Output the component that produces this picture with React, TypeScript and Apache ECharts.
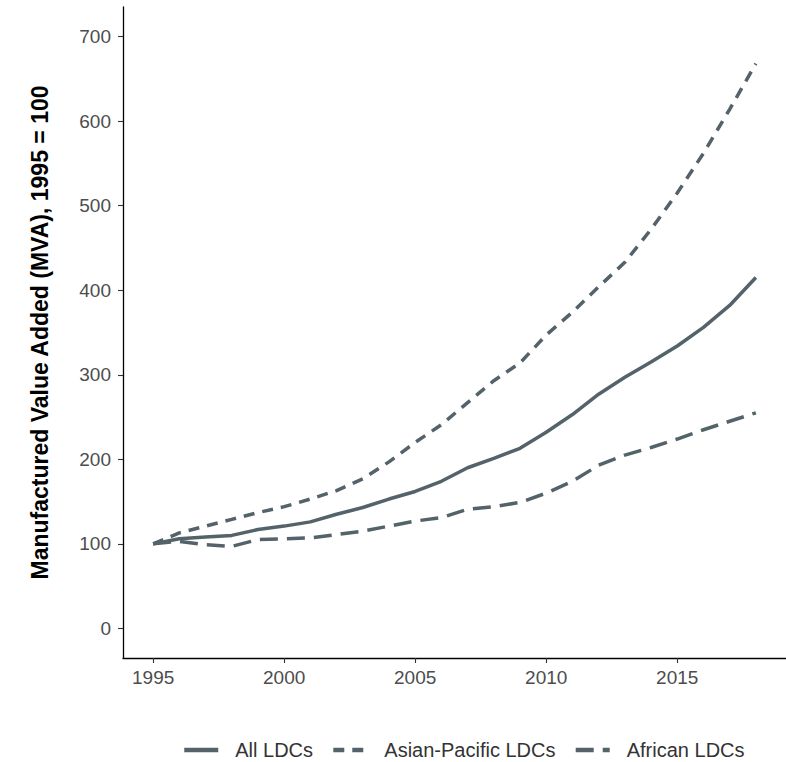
import React, { useEffect, useRef } from "react";
import * as echarts from "echarts";

const years = [1995, 1996, 1997, 1998, 1999, 2000, 2001, 2002, 2003, 2004, 2005, 2006, 2007, 2008, 2009, 2010, 2011, 2012, 2013, 2014, 2015, 2016, 2017, 2018];
const allLDCs = [100, 106, 108, 110, 117, 121, 126, 135, 143, 153, 162, 174, 190, 201, 213, 232, 253, 277, 297, 315, 334, 356, 382, 415];
const asianPacificLDCs = [100, 113, 121, 129, 137, 144, 153, 163, 177, 197, 220, 241, 267, 293, 314, 347, 374, 404, 433, 472, 515, 562, 614, 668];
const africanLDCs = [100, 103, 99, 97, 105, 106, 107, 111, 115, 121, 127, 131, 141, 144, 149, 160, 174, 193, 205, 214, 224, 235, 245, 255];
const xTicks = [1995, 2000, 2005, 2010, 2015];
const yTicks = [0, 100, 200, 300, 400, 500, 600, 700];
const seriesNames = ["All LDCs", "Asian-Pacific LDCs", "African LDCs"];

const LINE_COLOR = "#536369";
const FONT = "'Liberation Sans', Arial, sans-serif";

export default function App() {
  const ref = useRef<HTMLDivElement>(null);
  useEffect(() => {
    if (!ref.current) return;
    const chart = echarts.init(ref.current, null, { renderer: "svg" });
    const mk = (arr: number[]) => years.map((y, i) => [y, arr[i]]);
    const lineBase = { width: 3.5, color: LINE_COLOR, cap: "butt" as const };
    chart.setOption({
      animation: false,
      backgroundColor: "#ffffff",
      textStyle: { fontFamily: FONT },
      grid: { left: 123, right: 0, top: 7, bottom: 104, containLabel: false },
      legend: {
        top: 740,
        left: 182,
        padding: 0,
        itemWidth: 34,
        itemHeight: 14,
        itemGap: 18,
        data: seriesNames,
        itemStyle: { opacity: 0 },
        lineStyle: { width: 4.5 },
        textStyle: { fontSize: 20, color: "#333333", fontFamily: FONT, padding: [0, 0, 0, 12] },
      },
      xAxis: {
        type: "value",
        min: 1993.85,
        max: 2019.15,
        splitLine: { show: false },
        axisLine: { show: true, onZero: false, lineStyle: { color: "#000000", width: 1.3 } },
        axisTick: { show: true, length: 5, customValues: xTicks, lineStyle: { color: "#333333", width: 1.1 } },
        axisLabel: {
          customValues: xTicks,
          fontSize: 19,
          color: "#4D4D4D",
          margin: 10,
          fontFamily: FONT,
          formatter: (v: number) => String(v),
        },
      },
      yAxis: {
        type: "value",
        min: -35,
        max: 735,
        name: "Manufactured Value Added (MVA), 1995 = 100",
        nameLocation: "middle",
        nameGap: 72,
        nameTextStyle: { fontSize: 23, fontWeight: "bold", color: "#000000", fontFamily: FONT },
        splitLine: { show: false },
        axisLine: { show: true, onZero: false, lineStyle: { color: "#000000", width: 1.3 } },
        axisTick: { show: true, length: 5, customValues: yTicks, lineStyle: { color: "#333333", width: 1.1 } },
        axisLabel: { customValues: yTicks, fontSize: 19, color: "#4D4D4D", margin: 12, fontFamily: FONT },
      },
      series: [
        {
          name: seriesNames[0],
          type: "line",
          data: mk(allLDCs),
          symbol: "none",
          lineStyle: { ...lineBase, type: "solid" },
          itemStyle: { color: LINE_COLOR },
        },
        {
          name: seriesNames[1],
          type: "line",
          data: mk(asianPacificLDCs),
          symbol: "none",
          lineStyle: { ...lineBase, type: [11, 8] },
          itemStyle: { color: LINE_COLOR },
        },
        {
          name: seriesNames[2],
          type: "line",
          data: mk(africanLDCs),
          symbol: "none",
          lineStyle: { ...lineBase, type: [18, 9] },
          itemStyle: { color: LINE_COLOR },
        },
      ],
    });
    return () => chart.dispose();
  }, []);
  return (
    <div
      ref={ref}
      style={{ position: "fixed", left: 0, top: 0, width: 786, height: 762, background: "#fff" }}
    />
  );
}
